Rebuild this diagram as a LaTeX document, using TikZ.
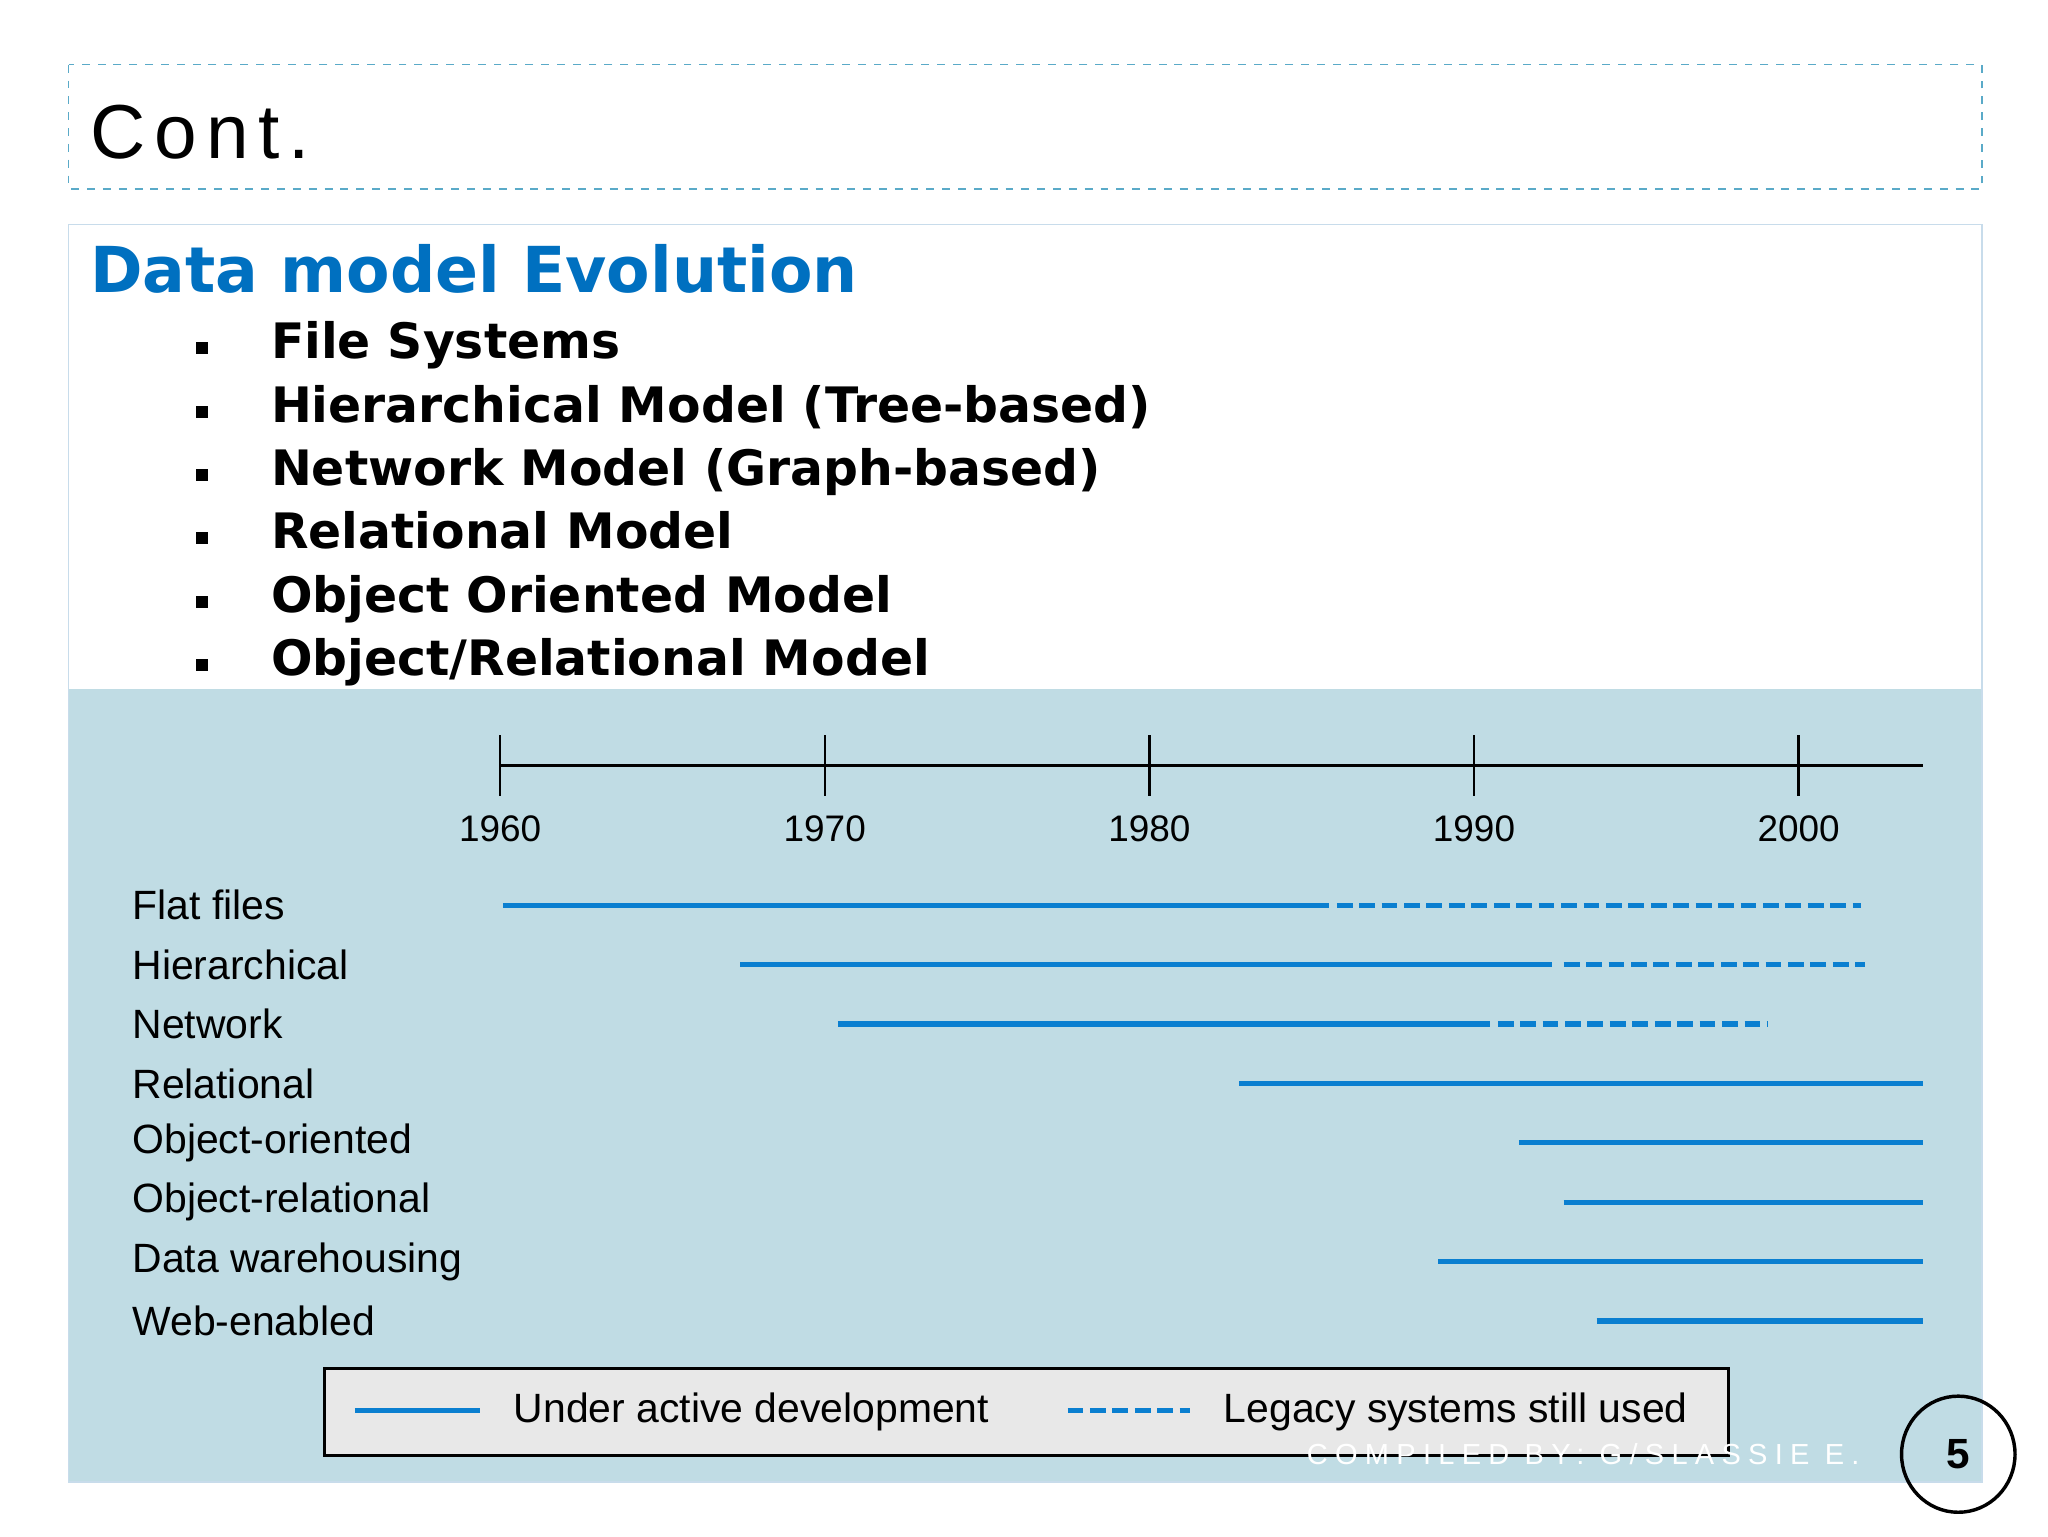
\documentclass[tikz,border=0pt]{standalone}
\usepackage{fontspec}
\setmainfont{Liberation Sans}
\newfontfamily\verd{DejaVu Sans}
\begin{document}
\begin{tikzpicture}[x=0.5pt,y=-0.5pt,
  rowlab/.style={anchor=west,font=\fontsize{15.5}{18}\selectfont},
  yearlab/.style={font=\fontsize{14}{16}\selectfont},
  bul/.style={anchor=base west,font=\verd\bfseries\fontsize{18.5}{22}\selectfont},
  sq/.style={fill=black,minimum size=4.5pt,inner sep=0pt},
  act/.style={color={rgb,255:red,10;green,127;blue,208},line width=2pt},
  leg/.style={act,dashed,dash pattern=on 6pt off 2.5pt}]
\useasboundingbox (0,0) rectangle (1552,1164);
\fill[white] (0,0) rectangle (1552,1164);
% header
\draw[dashed,color={rgb,255:red,90;green,170;blue,200},line width=0.6pt] (52,49) rectangle (1502,143);
\node[anchor=base west,inner sep=0pt,font=\fontsize{29}{32}\selectfont\addfontfeature{LetterSpace=12}] (title) at (68,120) {Cont.};
% content box
\fill[color={rgb,255:red,192;green,220;blue,228}] (52,522) rectangle (1502,1123);
\draw[color={rgb,255:red,200;green,220;blue,235},line width=0.5pt] (52,170) rectangle (1502,1123);
\node[anchor=base west,inner sep=0pt,color={rgb,255:red,0;green,112;blue,192},font=\verd\bfseries\fontsize{24}{28}\selectfont] (head) at (68,222) {Data model Evolution};
\foreach \t [count=\i] in {File Systems,Hierarchical Model (Tree-based),Network Model (Graph-based),Relational Model,Object Oriented Model,Object/Relational Model}{
  \node[sq] (s\i) at (153,{272+48*(\i-1)-8}) {};
  \node[bul,inner sep=0pt] (b\i) at (205,{272+48*(\i-1)}) {\t};
}
% axis
\coordinate (a0) at (379,580); \coordinate (a1) at (1457,580);
\draw[line width=0.9pt] (a0) -- (a1);
\foreach \yr [count=\i from 0] in {1960,1970,1980,1990,2000}{
  \draw[line width=0.9pt] ({379+246*\i},557) -- ({379+246*\i},603);
  \node[yearlab] (y\i) at ({379+246*\i},628) {\yr};
}
% rows
\foreach \t [count=\i from 0] in {Flat files,Hierarchical,Network,Relational,Object-oriented,Object-relational,Data warehousing,Web-enabled}{
  \node[rowlab,inner sep=0pt] (r\i) at (100,{686+45*\i}) {\t};
}
\newcommand\mybar[3]{\coordinate (p#1s) at (#2,{686+45*#1}); \coordinate (p#1e) at (#3,{686+45*#1}); \draw[act] (p#1s) -- (p#1e);}
\newcommand\mydbar[3]{\coordinate (q#1s) at (#2,{686+45*#1}); \coordinate (q#1e) at (#3,{686+45*#1}); \draw[leg] (q#1s) -- (q#1e);}
\mybar{0}{381}{1007}\mydbar{0}{1013}{1410}
\mybar{1}{561}{1176}\mydbar{1}{1185}{1413}
\mybar{2}{635}{1129}\mydbar{2}{1135}{1340}
\mybar{3}{939}{1457}
\mybar{4}{1151}{1457}
\mybar{5}{1185}{1457}
\mybar{6}{1090}{1457}
\mybar{7}{1210}{1457}
% legend
\draw[fill={rgb,255:red,232;green,232;blue,232},line width=1.1pt] (246,1037) rectangle (1310,1103);
\coordinate (l1) at (269,1069); \coordinate (l2) at (364,1069);
\coordinate (l3) at (809,1069); \coordinate (l4) at (902,1069);
\draw[act] (l1) -- (l2); \draw[leg] (l3) -- (l4);
\node[rowlab,inner sep=0pt] (lt1) at (389,1070) {Under active development};
\node[rowlab,inner sep=0pt] (lt2) at (927,1070) {Legacy systems still used};
% footer
\node[white,anchor=west,inner sep=0pt,font=\fontsize{11}{12}\selectfont\addfontfeature{LetterSpace=25}] (foot) at (990,1102) {COMPILED BY: G/SLASSIE E.};
\draw[line width=1.3pt] (1484,1102) ellipse (43 and 44);
\node[font=\bfseries\fontsize{16}{18}\selectfont] (pg) at (1484,1102) {5};
\end{tikzpicture}
\end{document}
